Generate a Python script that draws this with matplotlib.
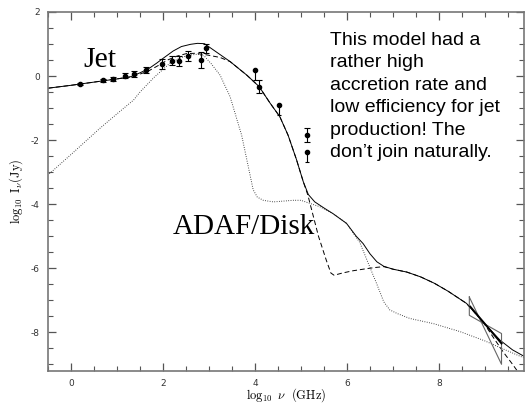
import matplotlib
matplotlib.use("Agg")
import matplotlib.pyplot as plt

plt.rcParams['mathtext.fontset'] = 'cm'

# total model spectrum (solid)
total_x = [-0.5, 0.0, 0.5, 1.0, 1.3, 1.5, 1.7, 1.86, 2.0, 2.22, 2.4, 2.6, 2.75, 2.9,
           3.09, 3.46, 3.82, 4.09, 4.33, 4.54, 4.72, 4.9, 5.05, 5.16, 5.3, 5.5, 5.7,
           5.99, 6.2, 6.35, 6.5, 6.65, 6.8, 7.0, 7.3, 7.6, 7.9, 8.2, 8.6, 8.96, 9.33,
           9.6, 9.85]
total_y = [-0.38, -0.29, -0.19, -0.09, -0.02, 0.10, 0.24, 0.40, 0.55, 0.78, 0.92, 0.99,
           1.02, 1.01, 0.82, 0.45, 0.03, -0.33, -0.85, -1.27, -1.85, -2.6, -3.3, -3.7,
           -3.93, -4.12, -4.3, -4.6, -5.0, -5.23, -5.55, -5.8, -5.94, -6.03, -6.12,
           -6.27, -6.47, -6.72, -7.1, -7.68, -8.25, -8.55, -8.75]

# jet component (dashed)
jet_x = [-0.5, 0.0, 0.5, 1.0, 1.3, 1.5, 1.7, 1.9, 2.1, 2.3, 2.51, 2.7, 2.95, 3.24,
         3.46, 3.82, 4.09, 4.33, 4.54, 4.72, 4.9, 5.05, 5.15, 5.2, 5.38, 5.55, 5.65,
         5.72, 5.9, 6.13, 6.4, 6.6, 6.8, 7.0, 7.3, 7.6, 7.9, 8.2, 8.6, 8.96, 9.2,
         9.4, 9.6, 9.75]
jet_y = [-0.38, -0.29, -0.19, -0.09, -0.03, 0.06, 0.17, 0.33, 0.50, 0.62, 0.70, 0.71,
         0.66, 0.58, 0.45, 0.03, -0.33, -0.85, -1.27, -1.85, -2.6, -3.3, -3.72, -4.0,
         -5.0, -5.75, -6.15, -6.22, -6.15, -6.08, -6.02, -5.98, -5.95, -6.03, -6.12,
         -6.27, -6.47, -6.72, -7.1, -7.68, -8.2, -8.62, -9.0, -9.3]

# ADAF / disk component (dotted)
adaf_x = [-0.47, 0.0, 0.63, 1.0, 1.36, 1.5, 1.8, 2.15, 2.35, 2.55, 2.75, 2.9, 3.05,
          3.24, 3.46, 3.71, 3.85, 3.96, 4.05, 4.18, 4.4, 4.83, 5.0, 5.2, 5.41, 5.7,
          5.99, 6.28, 6.45, 6.65, 6.8, 6.93, 7.1, 7.37, 7.88, 8.46, 9.0, 9.33, 9.88]
adaf_y = [-3.05, -2.45, -1.63, -1.18, -0.75, -0.5, -0.05, 0.40, 0.55, 0.65, 0.68, 0.62,
          0.38, 0.03, -0.65, -1.85, -2.8, -3.55, -3.78, -3.88, -3.93, -3.88, -3.88,
          -3.98, -4.08, -4.3, -4.6, -5.2, -5.8, -6.5, -7.05, -7.3, -7.42, -7.57, -7.73,
          -7.98, -8.27, -8.48, -8.82]

# measured fluxes with symmetric errors
obs_x = [0.2, 0.70, 0.92, 1.17, 1.37, 1.63, 1.97, 2.19, 2.35, 2.55, 2.83, 2.93, 4.09, 5.12]
obs_y = [-0.26, -0.13, -0.10, 0.01, 0.06, 0.19, 0.37, 0.48, 0.46, 0.63, 0.50, 0.86, -0.33, -1.84]
obs_err = [0.03, 0.05, 0.06, 0.08, 0.10, 0.10, 0.15, 0.15, 0.15, 0.15, 0.25, 0.14, 0.20, 0.22]

# upper limits (bar hangs below the point)
lim_x = [4.0, 4.53, 5.12]
lim_y = [0.19, -0.91, -2.38]
lim_down = [0.31, 0.31, 0.30]

# X-ray bow tie
bow_x = [8.66, 9.36, 9.36, 8.66, 8.66]
bow_y = [-6.9, -9.0, -8.04, -7.47, -6.9]
xray_x = [8.68, 9.36]
xray_y = [-7.2, -8.35]

xticks = [0, 2, 4, 6, 8]
yticks = [-8, -6, -4, -2, 0, 2]

fig = plt.figure(figsize=(5.26, 4.04), dpi=100)
ax = fig.add_axes([0.0913, 0.0824, 0.905, 0.888])

ax.plot(total_x, total_y, color='black', lw=0.7)
ax.plot(jet_x, jet_y, color='black', lw=0.7, dashes=(5, 3))
ax.plot(adaf_x, adaf_y, color='#222222', lw=0.7, dashes=(0.8, 1.6))

ax.errorbar(obs_x, obs_y, yerr=obs_err, fmt='o', ms=3, color='black',
            elinewidth=0.8, capsize=2, capthick=0.8)
ax.errorbar(lim_x, lim_y, yerr=[lim_down, [0] * len(lim_down)], fmt='o', ms=3,
            color='black', elinewidth=0.8, capsize=1.5, capthick=0.8)

ax.plot(bow_x, bow_y, color='#666666', lw=0.8)
ax.plot(xray_x, xray_y, color='black', lw=1.4)

ax.set_xlim(-0.5, 9.85)
ax.set_ylim(-9.2, 2.0)

ax.set_xticks(xticks)
ax.set_xticklabels([str(t) for t in xticks])
ax.set_yticks(yticks)
ax.set_yticklabels([str(t) for t in yticks])
ax.set_xticks([v * 0.5 for v in range(-1, 20)], minor=True)
ax.set_yticks([v * 0.5 for v in range(-18, 4)], minor=True)
ax.tick_params(which='both', direction='in', top=True, right=True,
               color='#555555', labelsize=6.5, labelcolor='#333333', pad=6)
ax.tick_params(which='major', length=6, width=0.9)
ax.tick_params(which='minor', length=3.5, width=0.8)
for s in ax.spines.values():
    s.set_color('#777777')
    s.set_linewidth(1.2)

ax.set_xlabel(r'$\log_{10}\ \nu\ \ (\mathrm{GHz})$', fontsize=9, labelpad=-1)
ax.set_ylabel(r'$\log_{10}\ \mathrm{I}_{\nu}(\mathrm{Jy})$', fontsize=9, labelpad=4)

ax.text(0.26, 0.29, 'Jet', family='Liberation Serif', fontsize=21.5)
ax.text(2.21, -4.92, 'ADAF/Disk', family='Liberation Serif', fontsize=21)
ax.text(5.63, 1.38, 'This model had a\nrather high\naccretion rate and\n'
        'low efficiency for jet\nproduction! The\ndon\u2019t join naturally.',
        family='Liberation Sans', fontsize=14, va='top', linespacing=1.42)

fig.savefig('out.png', dpi=100)
